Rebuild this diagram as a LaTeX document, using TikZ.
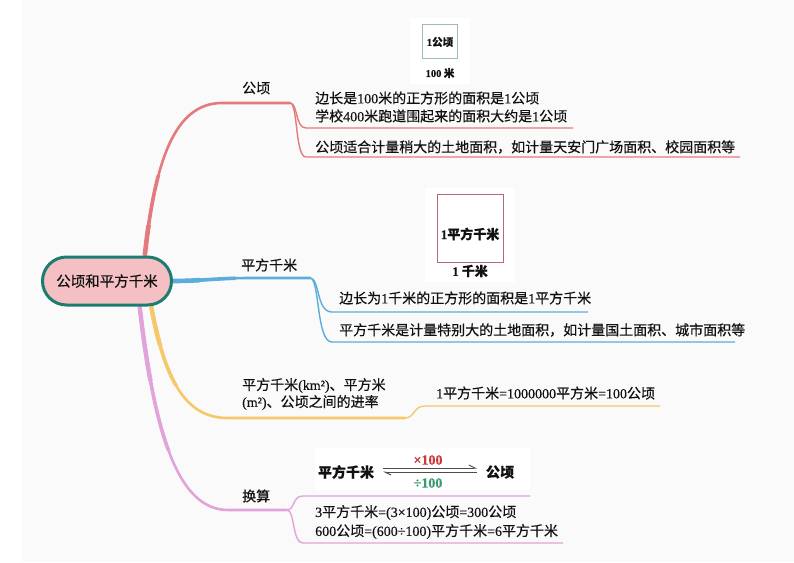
\documentclass[tikz,border=0pt]{standalone}
\usepackage{fontspec}
\setmainfont{Noto Sans CJK SC}[FakeBold=0.5]
\newfontfamily\lat{Liberation Serif}[FakeBold=0.3]
\newcommand\nmr[1]{{\lat #1}}
\usetikzlibrary{backgrounds,arrows.meta}
\definecolor{bg}{HTML}{FAFAFA}
\definecolor{rootfill}{HTML}{F4C0C4}
\definecolor{rootdraw}{HTML}{1E7B70}
\definecolor{cred}{HTML}{E57A7E}
\definecolor{cblue}{HTML}{5BAEDC}
\definecolor{cyellow}{HTML}{F5C96A}
\definecolor{cpink}{HTML}{E2A3DA}
\definecolor{txt}{HTML}{111111}
\definecolor{boxgreen}{HTML}{9DBFA8}
\definecolor{boxred}{HTML}{B26A74}
\definecolor{mulred}{HTML}{C93A3A}
\definecolor{divgreen}{HTML}{3A9A6E}
\tikzset{
  x=1pt, y=-1pt,
  trunk/.style={line width=2.6pt, line cap=round},
  twig/.style={line width=1.4pt},
  lbl/.style={font=\fontsize{14}{17}\selectfont, text=txt, inner sep=0pt, anchor=west},
  leaf/.style={font=\fontsize{14}{18}\selectfont, text=txt, inner sep=0pt, anchor=west, align=left},
  imgtxt/.style={font=\bfseries, text=txt, inner sep=0pt},
}
\begin{document}
\begin{tikzpicture}
\useasboundingbox (0,0) rectangle (794,562);

% root
\node[draw=rootdraw, line width=3pt, fill=rootfill, rounded corners=24pt,
      minimum width=129pt, minimum height=48pt, inner sep=0pt,
      font=\fontsize{14.5}{17}\selectfont, text=txt] (root) at (107,281) {公顷和平方千米};

% branch labels
\node[lbl] (l1) at (242,88) {公顷};
\node[lbl] (l2) at (241,265) {平方千米};
\node[lbl, align=left] (l3) at (242,394) {平方千米\nmr{(km²)}、平方米\\\nmr{(m²)}、公顷之间的进率};
\node[lbl] (l4) at (242,496) {换算};

% leaves
\node[leaf] (t1) at (315,107) {边长是\nmr{100}米的正方形的面积是\nmr{1}公顷\\学校\nmr{400}米跑道围起来的面积大约是\nmr{1}公顷};
\node[leaf] (t2) at (315,147) {公顷适合计量稍大的土地面积，如计量天安门广场面积、校园面积等};
\node[leaf] (t3) at (339,298) {边长为\nmr{1}千米的正方形的面积是\nmr{1}平方千米};
\node[leaf] (t4) at (339,330) {平方千米是计量特别大的土地面积，如计量国土面积、城市面积等};
\node[leaf] (t5) at (436,393) {\nmr{1}平方千米\nmr{=1000000}平方米\nmr{=100}公顷};
\node[leaf, font=\fontsize{14}{19}\selectfont] (t6) at (315,522) {\nmr{3}平方千米\nmr{=(3×100)}公顷\nmr{=300}公顷\\\nmr{600}公顷\nmr{=(600÷100)}平方千米\nmr{=6}平方千米};

% picture 1
\node[draw=boxgreen, line width=0.8pt, minimum width=35pt, minimum height=34pt, inner sep=0pt] (img1) at (439.5,41) {};
\node[imgtxt, font=\fontsize{10.5}{12}\selectfont\bfseries] (img1t) at (440,42) {\nmr{\bfseries 1}公顷};
\node[imgtxt, font=\fontsize{10.5}{12}\selectfont\bfseries] (img1s) at (440,73) {\nmr{\bfseries 100} 米};

% picture 2
\node[draw=boxred, line width=0.8pt, minimum width=66pt, minimum height=68pt, inner sep=0pt] (img2) at (470,228) {};
\node[imgtxt, font=\fontsize{13}{15}\selectfont\bfseries] (img2t) at (470,234) {\nmr{\bfseries 1}平方千米};
\node[imgtxt, font=\fontsize{13}{15}\selectfont\bfseries] (img2s) at (470,271) {\nmr{\bfseries 1} 千米};

% picture 3
\node[imgtxt, font=\fontsize{14}{17}\selectfont\bfseries] (am) at (346,472) {平方千米};
\node[imgtxt, font=\fontsize{14}{17}\selectfont\bfseries] (ah) at (500,472) {公顷};
\coordinate (a1s) at (383,468);
\coordinate (a1e) at (477,468);
\coordinate (a2s) at (477,472);
\coordinate (a2e) at (383,472);
\draw[line width=1pt, draw=black!70, -{Straight Barb[harpoon, length=6pt, width=6pt]}] (a1s) -- (a1e);
\draw[line width=1pt, draw=black!70, -{Straight Barb[harpoon, length=6pt, width=6pt]}] (a2s) -- (a2e);
\node[imgtxt, text=mulred, font=\fontsize{14}{16}\lat\bfseries] (mul) at (428,460) {×100};
\node[imgtxt, text=divgreen, font=\fontsize{14}{16}\lat\bfseries] (div) at (428,483) {÷100};

\begin{pgfonlayer}{background}
\fill[bg] (0,0) rectangle (794,562);
\fill[white] (0,0) rectangle (22,562);
\fill[white] (410,18) rectangle (470,84);
\fill[white] (425,188) rectangle (515,282);
\fill[white] (315,448) rectangle (530,490);
% red branch
\coordinate (rA) at (222,103);
\coordinate (rB) at (290,103);
\coordinate (rC1) at (306,128);
\coordinate (rE1) at (573,128);
\coordinate (rC2) at (306,157);
\coordinate (rE2) at (740,157);
\draw[trunk, cred] (root.34) .. controls (155,160) and (175,103) .. (rA) -- (rB);
\begin{scope}
\clip (100,175) rectangle (250,300);
\draw[cred, line width=3.6pt] (root.34) .. controls (155,160) and (175,103) .. (rA);
\end{scope}
\begin{scope}
\clip (100,225) rectangle (250,300);
\draw[cred, line width=4.6pt] (root.34) .. controls (155,160) and (175,103) .. (rA);
\end{scope}
\draw[twig, cred] (rB) .. controls (298,103) and (295,128) .. (rC1) -- (rE1);
\draw[twig, cred] (rB) .. controls (298,103) and (295,157) .. (rC2) -- (rE2);
% blue branch
\coordinate (bA) at (250,278);
\coordinate (bB) at (310,278);
\coordinate (bC1) at (332,312);
\coordinate (bE1) at (588,312);
\coordinate (bC2) at (332,342);
\coordinate (bE2) at (735,342);
\draw[trunk, cblue] (root.east) .. controls (200,281) and (220,278) .. (bA) -- (bB);
\begin{scope}
\clip (150,260) rectangle (235,300);
\draw[cblue, line width=3.6pt] (root.east) .. controls (200,281) and (220,278) .. (bA);
\end{scope}
\begin{scope}
\clip (150,260) rectangle (200,300);
\draw[cblue, line width=4.6pt] (root.east) .. controls (200,281) and (220,278) .. (bA);
\end{scope}
\draw[twig, cblue] (bB) .. controls (320,278) and (316,312) .. (bC1) -- (bE1);
\draw[twig, cblue] (bB) .. controls (320,278) and (316,342) .. (bC2) -- (bE2);
% yellow branch
\coordinate (yA) at (228,418);
\coordinate (yB) at (405,418);
\coordinate (yC) at (425,406);
\coordinate (yD) at (660,406);
\draw[trunk, cyellow] (root.-30) .. controls (165,380) and (185,418) .. (yA) -- (yB);
\begin{scope}
\clip (120,290) rectangle (260,385);
\draw[cyellow, line width=3.6pt] (root.-30) .. controls (165,380) and (185,418) .. (yA);
\end{scope}
\begin{scope}
\clip (120,290) rectangle (260,345);
\draw[cyellow, line width=4.4pt] (root.-30) .. controls (165,380) and (185,418) .. (yA);
\end{scope}
\draw[twig, cyellow] (yB) .. controls (415,418) and (413,406) .. (yC) -- (yD);
% pink branch
\coordinate (pA) at (228,510);
\coordinate (pB) at (287,510);
\coordinate (pC1) at (303,496);
\coordinate (pE1) at (530,496);
\coordinate (pC2) at (303,543);
\coordinate (pE2) at (563,543);
\draw[trunk, cpink] (root.-38) .. controls (155,440) and (180,510) .. (pA) -- (pB);
\begin{scope}
\clip (110,290) rectangle (260,450);
\draw[cpink, line width=3.6pt] (root.-38) .. controls (155,440) and (180,510) .. (pA);
\end{scope}
\begin{scope}
\clip (110,290) rectangle (260,380);
\draw[cpink, line width=4.4pt] (root.-38) .. controls (155,440) and (180,510) .. (pA);
\end{scope}
\draw[twig, cpink] (pB) .. controls (295,510) and (292,496) .. (pC1) -- (pE1);
\draw[twig, cpink] (pB) .. controls (295,510) and (292,543) .. (pC2) -- (pE2);
\end{pgfonlayer}
\end{tikzpicture}
\end{document}
